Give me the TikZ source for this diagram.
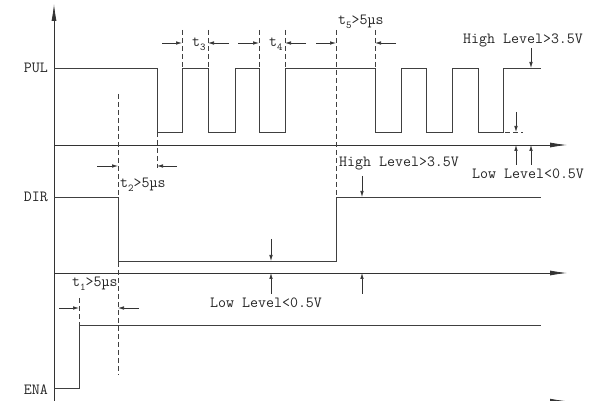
\documentclass[tikz,border=0pt]{standalone}
\usepackage{fontspec}
\usetikzlibrary{arrows.meta}
\newcommand{\subs}[1]{\raisebox{-3.5pt}{\fontsize{10.5}{10.5}\selectfont #1}}
\begin{document}
\begin{tikzpicture}[x=1pt,y=-1pt,
  sig/.style={line width=0.75pt, draw=black!75},
  guide/.style={line width=0.6pt, draw=black!75, dash pattern=on 5pt off 3pt},
  dim/.style={line width=0.6pt, draw=black!80, -{Latex[length=6pt,width=3.5pt]}},
  axis/.style={line width=0.75pt, draw=black!80, -{Latex[length=17pt,width=5pt]}},
  lbl/.style={font=\ttfamily\fontsize{15.5}{17}\selectfont, text=black!85, inner sep=0pt}
]
\useasboundingbox (0,0) rectangle (590,401);
% axes
\coordinate (o) at (54,410);
\coordinate (top) at (54,4);
\draw[axis] (o) -- (top);
\coordinate (a1s) at (54,145); \coordinate (a1e) at (567,145);
\coordinate (a2s) at (54,273); \coordinate (a2e) at (567,273);
\coordinate (a3s) at (54,401.2); \coordinate (a3e) at (567,401.2);
\draw[axis] (a1s) -- (a1e);
\draw[axis] (a2s) -- (a2e);
\draw[axis] (a3s) -- (a3e);
% signals
\draw[sig] (54,68) -- (157,68) -- (157,132) -- (182,132) -- (182,68) -- (208,68) -- (208,132)
  -- (235,132) -- (235,68) -- (259,68) -- (259,132) -- (285,132) -- (285,68) -- (375,68)
  -- (375,132) -- (401,132) -- (401,68) -- (426,68) -- (426,132) -- (452,132) -- (452,68)
  -- (478,68) -- (478,132) -- (503,132) -- (503,68) -- (541,68);
\draw[sig] (54,197) -- (118,197) -- (118,261) -- (336,261) -- (336,197) -- (541,197);
\draw[sig] (54,388) -- (79,388) -- (79,325) -- (541,325);
% guides
\draw[guide] (182,30) -- (182,68);
\draw[guide] (208,30) -- (208,68);
\draw[guide] (259,30) -- (259,68);
\draw[guide] (285,30) -- (285,68);
\draw[guide] (336,30) -- (336,197);
\draw[guide] (375,30) -- (375,68);
\draw[guide] (118,94) -- (118,375);
\draw[guide] (157,132) -- (157,168);
\draw[guide] (79,298) -- (79,325);
\draw[guide] (505,132) -- (523,132);
% dimension arrows
\draw[dim] (162,43) -- (182,43);
\draw[dim] (229,43) -- (208,43);
\draw[dim] (238,43) -- (259,43);
\draw[dim] (306,43) -- (285,43);
\draw[dim] (316,43) -- (336,43);
\draw[dim] (396,43) -- (375,43);
\draw[dim] (97,166) -- (118,166);
\draw[dim] (177,166) -- (157,166);
\draw[dim] (59,308) -- (79,308);
\draw[dim] (139,308) -- (118,308);
% level arrows
\draw[dim] (531,48) -- (531,68);
\draw[dim] (516,112) -- (516,132);
\draw[dim] (516,165) -- (516,145);
\draw[dim] (531,165) -- (531,145);
\draw[dim] (362,176) -- (362,197);
\draw[dim] (271,239) -- (271,261);
\draw[dim] (271,294) -- (271,273);
\draw[dim] (362,294) -- (362,273);
% labels
\node[lbl, anchor=base east] (pul) at (48,73) {PUL};
\node[lbl, anchor=base east] (dir) at (48,202) {DIR};
\node[lbl, anchor=base east] (ena) at (48,395) {ENA};
\node[lbl, anchor=base west] (t3) at (192,47) {t\subs{3}};
\node[lbl, anchor=base west] (t4) at (269,47) {t\subs{4}};
\node[lbl, anchor=base west] (t5) at (338,25) {t\subs{5}>5µs};
\node[lbl, anchor=base west] (t2) at (120,188) {t\subs{2}>5µs};
\node[lbl, anchor=base west] (t1) at (72,287) {t\subs{1}>5µs};
\node[lbl, anchor=base west] (hp) at (463,44) {High Level>3.5V};
\node[lbl, anchor=base west] (lp) at (472,179) {Low Level<0.5V};
\node[lbl, anchor=base west] (hd) at (339,167) {High Level>3.5V};
\node[lbl, anchor=base west] (ld) at (210,308) {Low Level<0.5V};
\end{tikzpicture}
\end{document}
